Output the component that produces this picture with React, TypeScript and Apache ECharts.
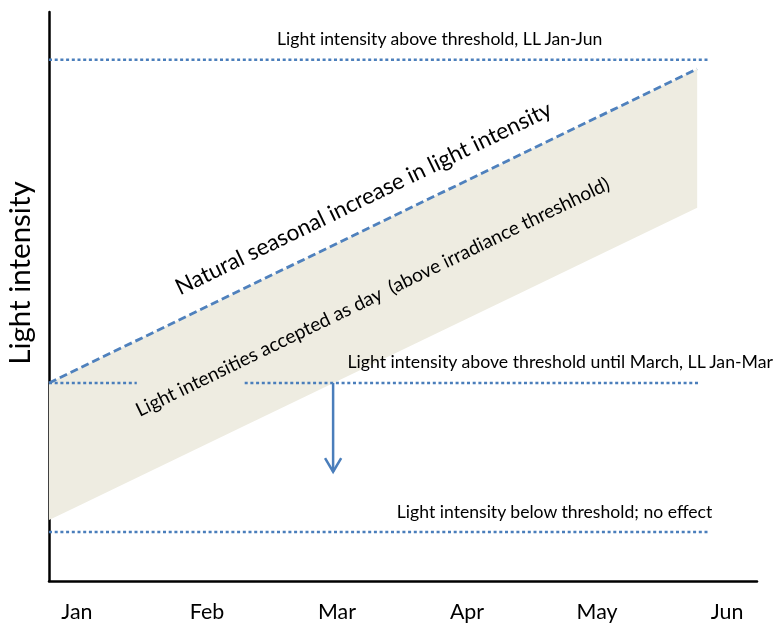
import React, { useEffect, useRef } from "react";
import * as echarts from "echarts";

// ---- data ----
const months = ["Jan", "Feb", "Mar", "Apr", "May", "Jun"];
const monthValues = [0, 1, 2, 3, 4, 5];

// natural seasonal increase (dashed) = upper edge of band
const naturalX = [-0.215, 4.77];
const naturalY = [34.8, 90.0];
// lower edge of accepted band
const bandLowerY = [10.7, 65.6];

// thresholds
const highLevel = 91.6;
const highX = [-0.215, 4.85];
const midLevel = 34.8;
const midSeg1X = [-0.215, 0.46];
const midSeg2X = [1.29, 4.78];
const lowLevel = 8.6;
const lowX = [-0.215, 4.85];

// arrow
const arrowX = 1.97;
const arrowY = [34.8, 19.2];
const arrowHeadY = 21.6;
const arrowHeadHalf = 0.062;

// annotations (data coords)
const noteTexts = [
  "Light intensity above threshold, LL Jan-Jun",
  "Light intensity above threshold until March, LL Jan-Mar",
  "Light intensity below threshold; no effect",
  "Natural seasonal increase in light intensity",
  "Light intensities accepted as day  (above irradiance threshhold)",
];
const noteX = [2.79, 2.08, 2.46, 2.2, 2.27];
const noteY = [95.3, 38.5, 12.3, 67.4, 50.1];

const FONT = "Lato, 'Open Sans', sans-serif";
const noteStyles = [
  { size: 17.6, align: "center", rotated: false },
  { size: 17.7, align: "left", rotated: false },
  { size: 17.6, align: "left", rotated: false },
  { size: 22.6, align: "center", rotated: true },
  { size: 19.2, align: "center", rotated: true },
];

const BLUE = "#4a7ebb";
const DOT = { color: BLUE, width: 2.5, type: [3, 2.7] as number[] };

export default function App() {
  const ref = useRef<HTMLDivElement>(null);
  useEffect(() => {
    document.body.style.margin = "0";
    const chart = echarts.init(ref.current!, null, { renderer: "svg" });
    const dotted = (xs: number[], y: number) => ({
      type: "line",
      data: xs.map((x) => [x, y]),
      symbol: "none",
      silent: true,
      lineStyle: DOT,
      z: 3,
    });
    chart.setOption({
      animation: false,
      grid: {
        left: 49,
        right: 17,
        top: 12,
        bottom: 42,
        containLabel: false,
        outerBoundsMode: "none",
      },
      xAxis: {
        type: "value",
        min: -0.215,
        max: 5.23,
        splitLine: { show: false },
        axisTick: { show: false },
        axisLine: { show: true, onZero: false, lineStyle: { color: "#000", width: 2.5 } },
        axisLabel: {
          customValues: monthValues,
          formatter: (v: number) => months[Math.round(v)] ?? "",
          color: "#000",
          fontSize: 21.4,
          fontFamily: FONT,
          margin: 19,
        },
      },
      yAxis: {
        type: "value",
        min: 0,
        max: 100,
        name: "Light intensity",
        nameLocation: "middle",
        nameGap: 16,
        nameTextStyle: {
          color: "#000",
          fontSize: 29.5,
          fontFamily: FONT,
          padding: [0, 0, 0, 47],
        },
        splitLine: { show: false },
        axisTick: { show: false },
        axisLabel: { show: false },
        axisLine: { show: true, onZero: false, lineStyle: { color: "#000", width: 2.5 } },
      },
      series: [
        {
          type: "custom",
          silent: true,
          z: 1,
          data: [[0]],
          renderItem: (_p: any, api: any) => {
            const pts = [
              api.coord([naturalX[0], bandLowerY[0]]),
              api.coord([naturalX[0], naturalY[0]]),
              api.coord([naturalX[1], naturalY[1]]),
              api.coord([naturalX[1], bandLowerY[1]]),
            ];
            return {
              type: "polygon",
              shape: { points: pts },
              style: { fill: "#eeece1" },
            };
          },
        },
        dotted(highX, highLevel),
        dotted(midSeg1X, midLevel),
        dotted(midSeg2X, midLevel),
        dotted(lowX, lowLevel),
        {
          type: "line",
          data: naturalX.map((x, i) => [x, naturalY[i]]),
          symbol: "none",
          silent: true,
          z: 4,
          lineStyle: { color: "#4f81bd", width: 2.8, type: [8, 4] },
        },
        {
          type: "line",
          data: arrowY.map((y) => [arrowX, y]),
          symbol: "none",
          silent: true,
          z: 4,
          lineStyle: { color: BLUE, width: 2.5 },
        },
        {
          type: "line",
          data: [
            [arrowX - arrowHeadHalf, arrowHeadY],
            [arrowX, arrowY[1]],
            [arrowX + arrowHeadHalf, arrowHeadY],
          ],
          symbol: "none",
          silent: true,
          z: 4,
          lineStyle: { color: BLUE, width: 2.5, join: "miter" },
        },
        {
          type: "custom",
          silent: true,
          z: 5,
          data: noteTexts.map((_, i) => [noteX[i], noteY[i], i]),
          renderItem: (_p: any, api: any) => {
            const i = api.value(2);
            const p = api.coord([api.value(0), api.value(1)]);
            const a = api.coord([naturalX[0], naturalY[0]]);
            const b = api.coord([naturalX[1], naturalY[1]]);
            const ang = Math.atan2(a[1] - b[1], b[0] - a[0]);
            const st = noteStyles[i];
            return {
              type: "text",
              x: p[0],
              y: p[1],
              rotation: st.rotated ? ang : 0,
              style: {
                text: noteTexts[i],
                fill: "#000",
                fontSize: st.size,
                fontFamily: FONT,
                align: st.align,
                verticalAlign: "middle",
              },
            };
          },
        },
      ],
    });
    return () => chart.dispose();
  }, []);
  return (
    <div
      ref={ref}
      style={{ position: "fixed", left: 0, top: 0, width: 774, height: 623 }}
    />
  );
}
